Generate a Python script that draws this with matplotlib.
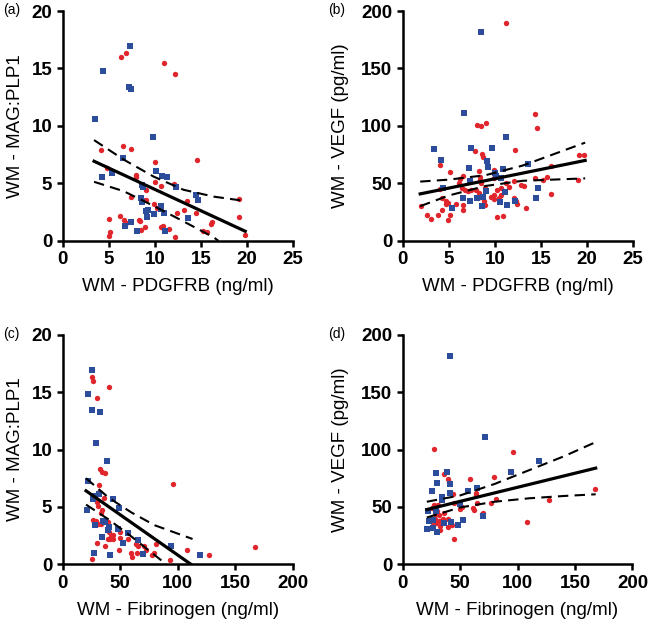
import matplotlib
matplotlib.use("Agg")
import matplotlib.pyplot as plt

plt.rcParams['font.family'] = ['Liberation Sans', 'DejaVu Sans']

RED = '#E0262C'
BLUE = '#2C4C9C'

# ---- (a) PDGFRB vs MAG:PLP1 ----
a_red_x = [6.34, 6.82, 11.0, 12.15, 6.51, 7.45, 4.17, 14.53, 10.0, 4.75, 7.91, 8.0, 10.0, 10.68,
           12.05, 9.06, 7.37, 8.67, 9.06, 9.86, 10.18, 13.5, 13.17, 14.42, 12.37, 19.1, 19.1,
           6.26, 5.0, 6.65, 6.87, 8.24, 8.35, 16.08, 16.2, 8.88, 8.49, 10.61, 10.9, 11.5,
           15.25, 15.6, 5.1, 5.04, 12.16, 19.75]
a_red_y = [15.97, 16.34, 15.47, 14.49, 8.24, 7.98, 7.95, 7.02, 6.85, 6.3, 5.72, 5.6, 5.14, 4.79,
           4.93, 4.47, 3.86, 3.6, 3.54, 3.19, 2.9, 3.48, 2.73, 2.41, 2.41, 3.63, 2.06,
           2.18, 1.92, 1.83, 1.6, 1.83, 1.71, 1.51, 1.63, 1.22, 0.96, 1.25, 1.33, 1.05,
           0.84, 0.78, 0.81, 0.44, 0.35, 0.55]
a_blue_x = [7.32, 4.4, 7.21, 7.39, 3.46, 9.75, 6.55, 4.21, 5.36, 10.07, 10.79, 11.3, 8.63, 8.7,
            12.27, 14.46, 14.68, 8.45, 8.6, 10.61, 10.68, 9.24, 8.99, 10.94, 13.56, 9.17, 9.9,
            7.37, 6.73, 8.06, 11.15]
a_blue_y = [16.93, 14.78, 13.4, 13.23, 10.57, 9.0, 7.17, 5.6, 5.95, 6.12, 5.66, 5.57, 4.85, 4.7,
            4.7, 4.03, 3.6, 3.72, 3.37, 3.02, 2.79, 2.67, 2.58, 2.44, 2.03, 2.12, 2.32,
            1.63, 1.34, 0.84, 0.84]
a_fit_x = [3.4, 19.8]
a_fit_y = [6.93, 0.84]
a_up_x = [3.4, 6.6, 9.85, 13.1, 16.4, 19.8]
a_up_y = [8.77, 7.08, 5.6, 4.45, 3.85, 3.47]
a_lo_x = [3.4, 6.6, 9.85, 13.1, 16.4, 16.9]
a_lo_y = [5.14, 4.33, 3.05, 1.7, 0.3, 0.0]

# ---- (b) PDGFRB vs VEGF ----
b_red_x = [11.18, 14.35, 14.53, 8.06, 8.45, 9.06, 12.16, 7.88, 8.56, 8.74, 4.03, 8.31, 9.89, 5.1,
           19.14, 19.71, 16.1, 6.19, 6.55, 6.08, 7.27, 8.35, 8.38, 8.49, 9.89, 10.58, 11.22,
           12.05, 12.8, 13.2, 14.39, 15.25, 15.68, 19.03, 16.08, 4.1, 6.4, 6.76, 7.12, 7.41,
           7.99, 8.96, 8.27, 10.25, 10.68, 11.55, 9.53, 9.93, 9.96, 10.4, 10.68, 8.17, 8.53,
           8.81, 8.92, 12.12, 12.3, 12.37, 13.42, 4.28, 4.68, 4.96, 4.75, 5.79, 6.58, 6.51,
           4.32, 1.94, 2.66, 3.06, 3.88, 5.18, 4.96, 10.18, 10.9]
b_red_y = [189.8, 110.3, 97.8, 100.7, 100.1, 102.2, 79.2, 78.4, 76.0, 72.6, 65.9, 61.2, 61.5, 59.8,
           74.6, 74.6, 65.0, 54.0, 56.3, 50.8, 52.8, 56.0, 52.8, 50.5, 54.9, 54.3, 50.8,
           52.2, 48.5, 47.9, 54.9, 53.4, 56.0, 52.8, 41.2, 45.3, 46.4, 44.1, 43.5, 44.1,
           44.7, 46.4, 41.8, 44.1, 45.9, 47.3, 38.0, 40.3, 36.6, 37.7, 39.8, 36.9, 38.3,
           34.5, 31.6, 37.7, 34.5, 31.9, 28.7, 36.9, 35.1, 33.4, 31.9, 31.9, 31.3, 27.0,
           27.3, 30.2, 22.6, 19.4, 22.6, 22.6, 18.6, 20.6, 22.1]
b_blue_x = [8.55, 6.65, 11.19, 3.45, 7.37, 9.71, 4.21, 9.17, 9.28, 7.19, 13.6, 10.9, 10.0, 10.14,
            7.3, 10.72, 4.39, 14.68, 9.06, 6.55, 7.34, 8.09, 8.67, 11.12, 12.23, 14.46, 10.54,
            11.3, 8.63, 5.32]
b_blue_y = [182.0, 110.9, 90.6, 79.8, 80.4, 81.0, 70.8, 69.7, 64.1, 63.6, 67.0, 62.7, 59.2, 56.9,
            52.5, 54.6, 46.1, 46.1, 43.8, 37.4, 35.1, 37.7, 38.6, 42.7, 35.1, 37.4, 34.2,
            31.6, 30.8, 28.7]
b_fit_x = [1.9, 19.8]
b_fit_y = [40.9, 70.0]
b_up_x = [1.9, 5.0, 9.0, 13.0, 19.8]
b_up_y = [51.6, 53.3, 57.2, 65.5, 85.5]
b_lo_x = [1.9, 5.0, 9.0, 13.0, 19.8]
b_lo_y = [30.2, 39.5, 47.8, 52.3, 54.4]

# ---- (c) Fibrinogen vs MAG:PLP1 ----
c_red_x = [25.6, 26.2, 40.7, 29.4, 32.3, 34.6, 37.2, 95.8, 31.7, 31.7, 35.5, 30.0, 30.3, 34.0,
           33.2, 28.6, 26.0, 30.9, 32.9, 39.8, 40.4, 42.4, 43.6, 41.0, 39.8, 43.6, 49.9,
           50.2, 57.1, 63.8, 65.2, 80.8, 30.0, 36.4, 48.8, 59.1, 64.3, 70.7, 72.4, 77.3,
           79.1, 60.3, 93.8, 108.2, 127.5, 25.4, 167.5]
c_red_y = [16.37, 15.99, 15.5, 14.5, 8.28, 8.02, 7.94, 7.03, 6.89, 6.31, 5.81, 5.41, 5.09, 4.74,
           4.51, 3.78, 3.9, 3.55, 3.55, 3.69, 2.85, 2.47, 2.53, 2.24, 2.18, 2.24, 2.3,
           2.79, 2.18, 1.77, 1.63, 1.8, 1.83, 1.6, 1.28, 1.02, 0.96, 1.6, 1.22, 0.84,
           0.99, 0.61, 0.38, 1.28, 0.78, 0.47, 1.48]
c_blue_x = [25.6, 21.9, 25.4, 32.6, 28.6, 38.4, 21.9, 26.0, 28.3, 31.4, 43.9, 49.0, 21.4, 27.7,
            35.2, 36.4, 39.5, 40.1, 47.9, 56.5, 34.0, 52.2, 65.2, 94.3, 27.1, 41.5, 69.5, 119.2]
c_blue_y = [16.95, 14.83, 13.43, 13.26, 10.61, 8.98, 7.3, 5.67, 5.96, 6.13, 5.7, 4.91, 4.74, 3.4,
            3.75, 3.69, 2.99, 3.28, 3.11, 2.73, 2.35, 1.83, 2.12, 1.63, 0.99, 0.84, 0.9, 0.84]
c_fit_x = [20.3, 111.5]
c_fit_y = [6.4, 0.0]
c_up_x = [20.3, 40, 60, 80, 113]
c_up_y = [7.5, 5.8, 4.5, 3.4, 2.2]
c_lo_x = [20.3, 40, 60, 75, 90]
c_lo_y = [5.2, 3.9, 2.4, 1.2, 0.0]

# ---- (d) Fibrinogen vs VEGF ----
d_red_x = [27.1, 96.1, 58.9, 79.9, 36.4, 39.2, 40.7, 63.5, 63.8, 94.1, 43.9, 30.6, 27.7, 25.4,
           30.0, 28.5, 31.7, 35.5, 34.0, 36.4, 50.2, 51.4, 60.9, 61.7, 64.3, 69.8, 77.3,
           81.4, 127.5, 108.2, 28.3, 31.2, 29.4, 32.9, 32.3, 26.3, 39.8, 42.7, 44.7, 39.8,
           45.0, 69.2, 167.5]
d_red_y = [100.6, 97.7, 74.4, 76.5, 79.1, 74.4, 71.8, 61.9, 60.2, 80.2, 61.3, 52.0, 51.5, 48.8,
           46.2, 43.9, 43.0, 39.8, 38.4, 44.5, 48.3, 50.3, 49.4, 47.7, 53.8, 45.1, 53.2,
           56.7, 56.1, 36.9, 39.5, 37.8, 35.8, 33.4, 29.9, 34.3, 32.3, 34.0, 22.4, 39.2,
           53.2, 43.9, 65.4]
d_blue_x = [41.0, 71.3, 118.9, 94.3, 28.6, 38.4, 30.0, 41.0, 25.4, 41.0, 56.8, 64.9, 33.8, 34.3,
            50.2, 21.9, 29.4, 23.1, 26.3, 35.8, 41.8, 52.5, 69.8, 48.2, 26.5, 21.4, 29.7]
d_blue_y = [182.0, 110.8, 90.4, 80.2, 79.7, 80.8, 70.9, 70.3, 63.7, 62.5, 64.0, 66.6, 59.0, 56.1,
            52.3, 46.5, 46.8, 38.1, 39.0, 35.8, 37.2, 38.4, 42.4, 34.0, 31.4, 31.1, 28.5]
d_fit_x = [21.0, 168.0]
d_fit_y = [47.7, 83.8]
d_up_x = [21, 50, 80, 110, 140, 168]
d_up_y = [54.5, 60.0, 70.0, 82.0, 94.0, 106.5]
d_lo_x = [21, 50, 80, 110, 140, 168]
d_lo_y = [40.7, 49.5, 54.5, 57.5, 59.5, 61.0]

panels = [
    ('(a)', [0.0965, 0.617, 0.3545, 0.3655], a_red_x, a_red_y, a_blue_x, a_blue_y,
     a_fit_x, a_fit_y, a_up_x, a_up_y, a_lo_x, a_lo_y,
     25, 20, [0, 5, 10, 15, 20, 25], [0, 5, 10, 15, 20],
     'WM - PDGFRB (ng/ml)', 'WM - MAG:PLP1', -0.205),
    ('(b)', [0.6195, 0.617, 0.3545, 0.3655], b_red_x, b_red_y, b_blue_x, b_blue_y,
     b_fit_x, b_fit_y, b_up_x, b_up_y, b_lo_x, b_lo_y,
     25, 200, [0, 5, 10, 15, 20, 25], [0, 50, 100, 150, 200],
     'WM - PDGFRB (ng/ml)', 'WM - VEGF (pg/ml)', -0.27),
    ('(c)', [0.0965, 0.103, 0.3535, 0.3645], c_red_x, c_red_y, c_blue_x, c_blue_y,
     c_fit_x, c_fit_y, c_up_x, c_up_y, c_lo_x, c_lo_y,
     200, 20, [0, 50, 100, 150, 200], [0, 5, 10, 15, 20],
     'WM - Fibrinogen (ng/ml)', 'WM - MAG:PLP1', -0.205),
    ('(d)', [0.6195, 0.103, 0.3535, 0.3645], d_red_x, d_red_y, d_blue_x, d_blue_y,
     d_fit_x, d_fit_y, d_up_x, d_up_y, d_lo_x, d_lo_y,
     200, 200, [0, 50, 100, 150, 200], [0, 50, 100, 150, 200],
     'WM - Fibrinogen (ng/ml)', 'WM - VEGF (pg/ml)', -0.27),
]

fig = plt.figure(figsize=(6.5, 6.29), dpi=100)

for (tag, rect, rx, ry, bx, by, fx, fy, ux, uy, lx, ly,
     xmax, ymax, xt, yt, xlab, ylab, ylx) in panels:
    ax = fig.add_axes(rect)
    ax.scatter(rx, ry, s=15, marker='o', color=RED, linewidths=0, zorder=3)
    ax.scatter(bx, by, s=17, marker='s', color=BLUE, linewidths=0, zorder=3)
    ax.plot(fx, fy, color='black', lw=2.3, zorder=4)
    ax.plot(ux, uy, color='black', lw=1.5, ls=(0, (5, 3)), zorder=4)
    ax.plot(lx, ly, color='black', lw=1.5, ls=(0, (5, 3)), zorder=4)

    ax.set_xlim(0, xmax)
    ax.set_ylim(0, ymax)
    ax.set_xticks(xt)
    ax.set_yticks(yt)
    for s in ['top', 'right']:
        ax.spines[s].set_visible(False)
    for s in ['left', 'bottom']:
        ax.spines[s].set_linewidth(1.8)
    ax.tick_params(direction='out', length=4.5, width=1.8, labelsize=13.5, pad=3)
    for lab in ax.get_xticklabels() + ax.get_yticklabels():
        lab.set_fontweight('bold')

    ax.set_xlabel(xlab, fontsize=13.5)
    ax.set_ylabel(ylab, fontsize=13.5)
    ax.xaxis.label.set_va('center')
    ax.yaxis.label.set_va('center')
    ax.xaxis.set_label_coords(0.5, -0.2)
    ax.yaxis.set_label_coords(ylx, 0.5)

    pos = ax.get_position()
    fig.text(pos.x0 - 0.092 if tag in ('(a)', '(c)') else pos.x0 - 0.115,
             pos.y1 + 0.001, tag, fontsize=10, va='center', ha='left')

fig.savefig('out.png', dpi=100)
